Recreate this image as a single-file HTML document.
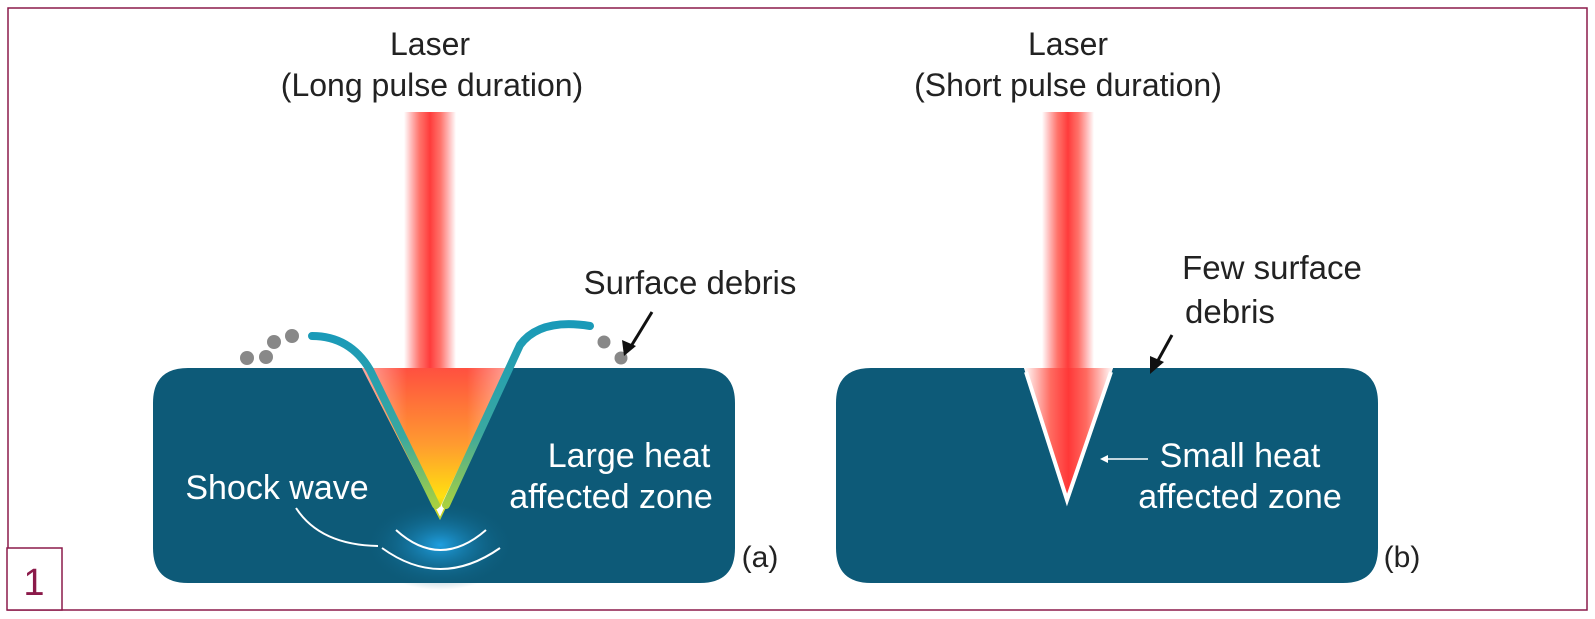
<!DOCTYPE html>
<html><head><meta charset="utf-8"><style>
body{margin:0;background:#fff}
svg{display:block}
text{font-family:"Liberation Sans",sans-serif}
</style></head><body>
<svg width="1595" height="619" viewBox="0 0 1595 619" xmlns="http://www.w3.org/2000/svg">
<defs>
<linearGradient id="beamH" x1="0" x2="1" y1="0" y2="0">
<stop offset="0" stop-color="#ff4a4a" stop-opacity="0"/>
<stop offset="0.3" stop-color="#ff5a50" stop-opacity="0.85"/>
<stop offset="0.5" stop-color="#ff3b3b"/>
<stop offset="0.7" stop-color="#ff5a50" stop-opacity="0.85"/>
<stop offset="1" stop-color="#ff4a4a" stop-opacity="0"/>
</linearGradient>
<linearGradient id="hot" x1="0" x2="0" y1="0" y2="1">
<stop offset="0" stop-color="#ff5040"/>
<stop offset="0.5" stop-color="#ff9a30"/>
<stop offset="0.85" stop-color="#ffe010"/>
<stop offset="1" stop-color="#b0d030"/>
</linearGradient>
<linearGradient id="fadeH" x1="0" x2="1" y1="0" y2="0">
<stop offset="0" stop-color="#fff"/>
<stop offset="0.3" stop-color="#fff" stop-opacity="0"/>
<stop offset="0.7" stop-color="#fff" stop-opacity="0"/>
<stop offset="1" stop-color="#fff"/>
</linearGradient>
<linearGradient id="redV" x1="0" x2="1" y1="0" y2="0">
<stop offset="0" stop-color="#fff"/>
<stop offset="0.3" stop-color="#ff6a60"/>
<stop offset="0.5" stop-color="#ff3838"/>
<stop offset="0.7" stop-color="#ff6a60"/>
<stop offset="1" stop-color="#fff"/>
</linearGradient>
<linearGradient id="wall" x1="0" x2="0" y1="0" y2="1">
<stop offset="0" stop-color="#1a9ab8"/>
<stop offset="0.6" stop-color="#3aa8a0"/>
<stop offset="1" stop-color="#a8d040"/>
</linearGradient>
<radialGradient id="glow" cx="0.5" cy="0.5" r="0.5">
<stop offset="0" stop-color="#1f9fe0"/>
<stop offset="1" stop-color="#0d5a78" stop-opacity="0"/>
</radialGradient>
</defs>
<rect x="8" y="8" width="1579" height="602" fill="none" stroke="#8b1a4a" stroke-width="1.5"/>
<rect x="7" y="548" width="55" height="62" fill="#fff" stroke="#8b1a4a" stroke-width="1.5"/>
<text x="34" y="595" font-size="38" fill="#8b1a4a" text-anchor="middle">1</text>

<!-- Left panel -->
<text x="430" y="55" font-size="32" fill="#222" text-anchor="middle">Laser</text>
<text x="432" y="96" font-size="32" fill="#222" text-anchor="middle">(Long pulse duration)</text>
<path d="M188 368 H362 L440 520 L512 368 H700 Q735 368 735 403 V548 Q735 583 700 583 H188 Q153 583 153 548 V403 Q153 368 188 368 Z" fill="#0d5a78"/>
<ellipse cx="440" cy="545" rx="75" ry="45" fill="url(#glow)"/>
<rect x="404" y="112" width="52" height="260" fill="url(#beamH)"/>
<path d="M362 368 L512 368 L440 520 Z" fill="url(#hot)"/>
<path d="M362 368 L512 368 L440 520 Z" fill="url(#fadeH)" opacity="0.5"/>
<path d="M372 374 L440 512 L506 374" fill="none" stroke="#fff" stroke-width="4"/>
<path d="M312 336 Q350 336 370 370 L436 505" fill="none" stroke="url(#wall)" stroke-width="8" stroke-linecap="round"/>
<path d="M590 326 Q540 318 520 345 L446 505" fill="none" stroke="url(#wall)" stroke-width="8" stroke-linecap="round"/>
<path d="M396 530 Q440 570 486 530" fill="none" stroke="#fff" stroke-width="2"/>
<path d="M382 548 Q440 590 500 548" fill="none" stroke="#fff" stroke-width="2"/>
<path d="M296 508 Q320 545 378 546" fill="none" stroke="#fff" stroke-width="2"/>
<circle cx="274" cy="342" r="7" fill="#888"/><circle cx="266" cy="357" r="7" fill="#888"/>
<circle cx="247" cy="358" r="7" fill="#888"/><circle cx="292" cy="336" r="7" fill="#888"/>
<circle cx="604" cy="342" r="6.5" fill="#888"/><circle cx="621" cy="358" r="6.5" fill="#888"/>
<text x="690" y="294" font-size="33" fill="#222" text-anchor="middle">Surface debris</text>
<path d="M652 312 L630 348" stroke="#111" stroke-width="3"/>
<path d="M624 356 L622 340 L636 346 Z" fill="#111"/>
<text x="277" y="499" font-size="34" fill="#fff" text-anchor="middle">Shock wave</text>
<text x="629" y="467" font-size="34" fill="#fff" text-anchor="middle">Large heat</text>
<text x="611" y="508" font-size="34" fill="#fff" text-anchor="middle">affected zone</text>
<text x="760" y="567" font-size="30" fill="#222" text-anchor="middle">(a)</text>

<!-- Right panel -->
<text x="1068" y="55" font-size="32" fill="#222" text-anchor="middle">Laser</text>
<text x="1068" y="96" font-size="32" fill="#222" text-anchor="middle">(Short pulse duration)</text>
<path d="M871 368 H1024 L1067 502 L1113 368 H1343 Q1378 368 1378 403 V548 Q1378 583 1343 583 H871 Q836 583 836 548 V403 Q836 368 871 368 Z" fill="#0d5a78"/>
<rect x="1042" y="112" width="52" height="260" fill="url(#beamH)"/>
<path d="M1024 368 L1113 368 L1067 502 Z" fill="url(#redV)"/>
<path d="M1026 372 L1067 500 L1111 372" fill="none" stroke="#fff" stroke-width="4"/>
<text x="1272" y="279" font-size="33" fill="#222" text-anchor="middle">Few surface</text>
<text x="1230" y="323" font-size="33" fill="#222" text-anchor="middle">debris</text>
<path d="M1172 335 L1156 364" stroke="#111" stroke-width="3"/>
<path d="M1150 374 L1150 356 L1164 362 Z" fill="#111"/>
<path d="M1148 459 H1104" stroke="#fff" stroke-width="1.5"/>
<path d="M1100 459 L1108 455 L1108 463 Z" fill="#fff"/>
<text x="1240" y="467" font-size="34" fill="#fff" text-anchor="middle">Small heat</text>
<text x="1240" y="508" font-size="34" fill="#fff" text-anchor="middle">affected zone</text>
<text x="1402" y="567" font-size="30" fill="#222" text-anchor="middle">(b)</text>
</svg>
</body></html>
